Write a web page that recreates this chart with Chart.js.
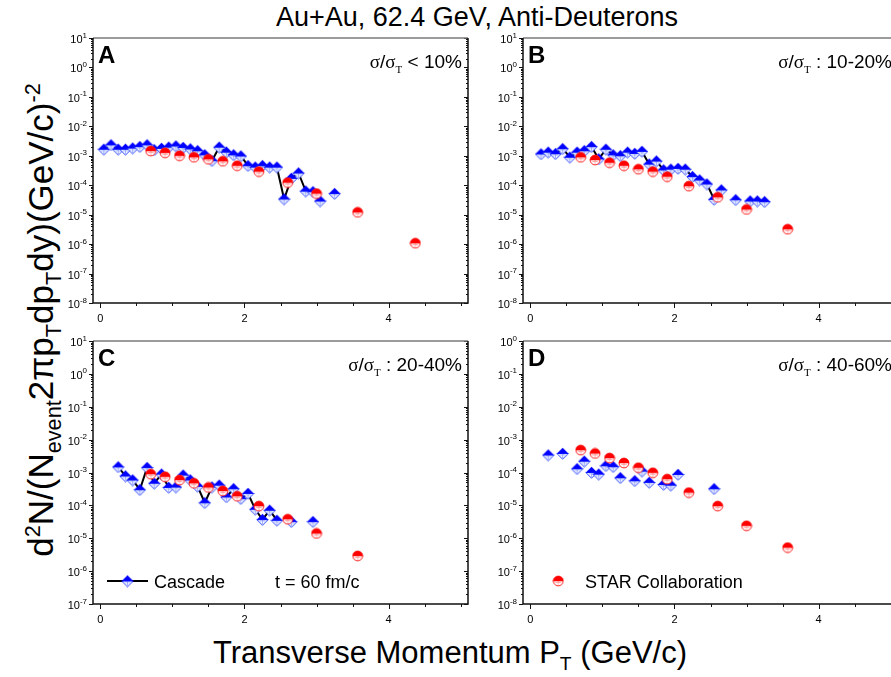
<!DOCTYPE html>
<html>
<head>
<meta charset="utf-8">
<script src="https://cdn.jsdelivr.net/npm/chart.js@4.4.1/dist/chart.umd.min.js"></script>
<style>
  html, body { margin: 0; padding: 0; overflow: hidden; background: #fff; }
  #wrap { position: relative; width: 891px; height: 677px; overflow: hidden; background: #fff; font-family: "Liberation Sans", Arial, sans-serif; color: #000; }
  #wrap canvas { position: absolute; }
  .txt { position: absolute; white-space: nowrap; line-height: 1; }
  .txt sub, .txt sup { line-height: 0; font-size: 62%; }
  #title { left: 477px; top: 4px; font-size: 27px; transform: translateX(-50%); }
  #xtitle { left: 450px; top: 637px; font-size: 31px; transform: translateX(-50%); }
  #ytitle { left: 40px; top: 320px; font-size: 35px; transform: translate(-50%, -50%) rotate(-90deg); }
</style>
</head>
<body>
<div id="wrap">
  <div class="txt" id="title">Au+Au, 62.4 GeV, Anti-Deuterons</div>
  <div class="txt" id="ytitle">d<sup>2</sup>N/(N<sub>event</sub>2&pi;p<sub>T</sub>dp<sub>T</sub>dy)(GeV/c)<sup>-2</sup></div>
  <div class="txt" id="xtitle">Transverse Momentum P<sub>T</sub> (GeV/c)</div>
  <canvas id="chartA" width="425" height="300" style="left:50px;top:28px"></canvas>
  <canvas id="chartB" width="425" height="300" style="left:480px;top:28px"></canvas>
  <canvas id="chartC" width="425" height="300" style="left:50px;top:331px"></canvas>
  <canvas id="chartD" width="425" height="300" style="left:480px;top:331px"></canvas>
</div>
<script>
// ---- data ----
var starPt = [0.7, 0.9, 1.1, 1.3, 1.5, 1.7, 1.9, 2.2, 2.6, 3.0, 3.57];

// A: sigma/sigmaT < 10%
var cascadePtA = [0.05, 0.15, 0.25, 0.35, 0.45, 0.55, 0.65, 0.75, 0.85, 0.95, 1.05, 1.15, 1.25, 1.35, 1.45, 1.55, 1.65,
    1.75, 1.85, 1.95, 2.05, 2.15, 2.25, 2.35, 2.45, 2.55, 2.65, 2.75, 2.85, 2.95, 3.05, 3.15, 3.25];
var cascadeA = [1.66e-3, 2.34e-3, 1.66e-3, 1.66e-3, 1.82e-3, 2.04e-3, 2.34e-3, 1.58e-3, 1.78e-3, 1.95e-3, 2.14e-3, 1.91e-3,
    1.70e-3, 1.48e-3, 1.07e-3, 6.8e-4, 1.95e-3, 1.32e-3, 1.07e-3, 9.8e-4, 4.6e-4, 4.1e-4, 4.6e-4, 4.1e-4, 4.1e-4,
    3.4e-5, 1.7e-4, 2.6e-4, 6.3e-5, 6.0e-5, 2.9e-5, null, 5.2e-5];
var starPtA = [0.7, 0.9, 1.1, 1.3, 1.5, 1.7, 1.9, 2.2, 2.6, 3.0, 3.57, 4.37];
var starA = [1.45e-3, 1.26e-3, 1.0e-3, 8.9e-4, 7.6e-4, 6.5e-4, 4.6e-4, 2.9e-4, 1.23e-4, 5.2e-5, 1.2e-5, 1.07e-6];

// B: 10-20%
var cascadePtB = [0.15, 0.25, 0.35, 0.45, 0.55, 0.65, 0.75, 0.85, 0.95, 1.05, 1.15, 1.25, 1.35, 1.45, 1.55, 1.65,
    1.75, 1.85, 1.95, 2.05, 2.15, 2.25, 2.35, 2.45, 2.55, 2.65, 2.75, 2.85, 2.95, 3.05, 3.15, 3.25];
var cascadeB = [1.15e-3, 1.32e-3, 1.17e-3, 1.74e-3, 8.9e-4, 1.32e-3, 1.48e-3, 2.04e-3, 7.8e-4, 1.66e-3,
    1.07e-3, 1.0e-3, 1.32e-3, 1.2e-3, 1.41e-3, 5.2e-4, 6.6e-4, 3.3e-4, 3.5e-4, 3.7e-4,
    3.5e-4, 1.95e-4, 1.5e-4, 1.1e-4, 3.3e-5, 6.9e-5, null, 3.2e-5, null, 2.9e-5, 2.9e-5, 2.75e-5];
var starB = [8.9e-4, 7.2e-4, 5.8e-4, 4.6e-4, 3.5e-4, 2.9e-4, 1.95e-4, 9.3e-5, 3.9e-5, 1.5e-5, 3.2e-6];

// C: 20-40%
var cascadePtC = [0.25, 0.35, 0.45, 0.55, 0.65, 0.75, 0.85, 0.95, 1.05, 1.15, 1.25, 1.35, 1.45, 1.55, 1.65,
    1.75, 1.85, 1.95, 2.05, 2.15, 2.25, 2.35, 2.45, 2.55, 2.65, 2.75, 2.85, 2.95];
var cascadeC = [1.48e-3, 7.8e-4, 5.9e-4, 3.0e-4, 1.41e-3, 4.7e-4, 8.9e-4, 3.5e-4, 3.6e-4, 8.3e-4,
    5.9e-4, 3.8e-4, 1.2e-4, 3.6e-4, 4.1e-4, 1.8e-4, 3.2e-4, 1.6e-4, 2.3e-4, 7.6e-5,
    3.7e-5, 7.1e-5, 3.5e-5, null, 3.2e-5, null, null, 3.2e-5];
var starC = [8.9e-4, 7.4e-4, 5.9e-4, 4.7e-4, 3.5e-4, 2.75e-4, 1.9e-4, 9.5e-5, 3.8e-5, 1.4e-5, 2.9e-6];

// D: 40-60%
var cascadePtD = [0.25, 0.45, 0.65, 0.75, 0.85, 0.95, 1.05, 1.15, 1.25, 1.45, 1.55, 1.65, 1.85, 1.95, 2.05, 2.55];
var cascadeD = [3.4e-4, 3.8e-4, 1.3e-4, 2.2e-4, 1.0e-4, 8.9e-5, 1.6e-4, 1.5e-4, 6.9e-5, 5.6e-5, 1.1e-4, 5.0e-5,
    4.3e-5, 4.1e-5, 8.7e-5, 3.2e-5];
var starD = [4.8e-4, 3.8e-4, 2.75e-4, 1.95e-4, 1.4e-4, 9.8e-5, 6.3e-5, 2.45e-5, 9.5e-6, 2.4e-6, 5.2e-7];

// axis ticks
var xTickValues = [0, 0.5, 1, 1.5, 2, 2.5, 3, 3.5, 4, 4.5, 5];
var xLabelValues = [0, 2, 4];
var decadesAB = [-8, -7, -6, -5, -4, -3, -2, -1, 0, 1];
var decadesC = [-7, -6, -5, -4, -3, -2, -1, 0, 1];
var decadesD = [-8, -7, -6, -5, -4, -3, -2, -1, 0];

var SANS = '"Liberation Sans", Arial, sans-serif';
var SERIF = '"Liberation Serif", "Times New Roman", serif';

function pontos(xs, ys) {
    var r = [];
    for (var i = 0; i < xs.length; i++) r.push({ x: xs[i], y: ys[i] });
    return r;
}

function makeDiamond() {
    var c = document.createElement('canvas');
    c.width = 13; c.height = 13;
    var g = c.getContext('2d');
    var cx = 6.5, cy = 6.5, r = 5.7;
    g.beginPath(); g.moveTo(cx - r, cy); g.lineTo(cx, cy + r); g.lineTo(cx + r, cy); g.closePath();
    g.fillStyle = '#fff'; g.fill();
    g.strokeStyle = '#2340ff'; g.lineWidth = 1; g.stroke();
    g.strokeStyle = '#8c9dff'; g.lineWidth = 0.8;
    g.beginPath();
    g.moveTo(cx, cy); g.lineTo(cx, cy + r - 1.2);
    g.moveTo(cx - 2.8, cy + 1.4); g.lineTo(cx + 2.8, cy + 1.4);
    g.stroke();
    g.beginPath(); g.moveTo(cx - r - 0.3, cy + 0.2); g.lineTo(cx, cy - r); g.lineTo(cx + r + 0.3, cy + 0.2); g.closePath();
    g.fillStyle = '#0000ff'; g.fill();
    return c;
}

function makeCircle() {
    var c = document.createElement('canvas');
    c.width = 12; c.height = 12;
    var g = c.getContext('2d');
    var cx = 6, cy = 6, r = 4.9;
    g.beginPath(); g.arc(cx, cy, r, 0, Math.PI * 2);
    g.fillStyle = '#fff'; g.fill();
    g.strokeStyle = '#ff2020'; g.lineWidth = 1; g.stroke();
    g.strokeStyle = '#ff9a9a'; g.lineWidth = 0.8;
    g.beginPath();
    g.moveTo(cx, cy); g.lineTo(cx, cy + r - 1);
    g.moveTo(cx - 2.8, cy + 1.5); g.lineTo(cx + 2.8, cy + 1.5);
    g.stroke();
    g.beginPath(); g.arc(cx, cy + 0.2, r + 0.3, Math.PI, 0); g.closePath();
    g.fillStyle = '#ff0000'; g.fill();
    return c;
}

var diamondImg = makeDiamond();
var circleImg = makeCircle();

function drawSigma(ctx, right, base, tail) {
    var parts = [
        { t: '\u03C3', f: '19px ' + SERIF, dy: 0 },
        { t: '/', f: '19px ' + SANS, dy: 0 },
        { t: '\u03C3', f: '19px ' + SERIF, dy: 0 },
        { t: 'T', f: '11px ' + SERIF, dy: 5 },
        { t: tail, f: '19px ' + SANS, dy: 0 }
    ];
    var total = 0;
    parts.forEach(function (p) { ctx.font = p.f; p.w = ctx.measureText(p.t).width; total += p.w; });
    var x = right - total;
    ctx.textAlign = 'left';
    ctx.textBaseline = 'alphabetic';
    parts.forEach(function (p) { ctx.font = p.f; ctx.fillText(p.t, x, base + p.dy); x += p.w; });
}

var decoPlugin = {
    id: 'deco',
    afterDraw: function (chart, args, opts) {
        var ctx = chart.ctx, a = chart.chartArea, xs = chart.scales.x, ys = chart.scales.y;
        ctx.save();
        ctx.fillStyle = '#000';
        ctx.strokeStyle = '#111';
        ctx.lineWidth = 1;
        ctx.beginPath();
        xTickValues.forEach(function (v) {
            var p = Math.round(xs.getPixelForValue(v)) + 0.5;
            var len = xLabelValues.indexOf(v) >= 0 ? 5 : 3;
            ctx.moveTo(p, a.bottom); ctx.lineTo(p, a.bottom + len);
        });
        var dec = opts.decades;
        dec.forEach(function (e, i) {
            var p = Math.round(ys.getPixelForValue(Math.pow(10, e))) + 0.5;
            ctx.moveTo(a.left - 4, p); ctx.lineTo(a.left, p);
            ctx.moveTo(a.right - 4, p); ctx.lineTo(a.right, p);
            if (i < dec.length - 1) {
                for (var k = 2; k <= 9; k++) {
                    var q = Math.round(ys.getPixelForValue(k * Math.pow(10, e))) + 0.5;
                    ctx.moveTo(a.left - 2, q); ctx.lineTo(a.left, q);
                    ctx.moveTo(a.right - 2, q); ctx.lineTo(a.right, q);
                }
            }
        });
        ctx.stroke();

        // y tick labels: 10 with raised exponent, placed on the scale's own ticks
        ctx.textAlign = 'left';
        ctx.textBaseline = 'alphabetic';
        ys.ticks.forEach(function (t) {
            var p = ys.getPixelForValue(t.value);
            var ex = String(Math.round(Math.log10(t.value)));
            ctx.font = '8px ' + SANS;
            var we = ctx.measureText(ex).width;
            ctx.font = '11px ' + SANS;
            var wb = ctx.measureText('10').width;
            var xr = a.left - 6;
            ctx.fillText('10', xr - we - wb, p + 5);
            ctx.font = '8px ' + SANS;
            ctx.fillText(ex, xr - we, p - 0.5);
        });

        ctx.lineWidth = 1.5;
        ctx.strokeStyle = '#7a7a7a';
        ctx.beginPath(); ctx.moveTo(a.left, a.top); ctx.lineTo(a.right, a.top); ctx.stroke();
        ctx.strokeStyle = '#111';
        ctx.beginPath();
        ctx.moveTo(a.right, a.top); ctx.lineTo(a.right, a.bottom); ctx.lineTo(a.left, a.bottom); ctx.lineTo(a.left, a.top);
        ctx.stroke();

        ctx.font = 'bold 24px ' + SANS;
        ctx.fillText(opts.letter, a.left + 5, a.top + 25);
        drawSigma(ctx, a.right - 6, a.top + 30, opts.tail);

        if (opts.legendCascade) {
            var ly = a.top + 240;
            ctx.strokeStyle = '#000'; ctx.lineWidth = 2;
            ctx.beginPath(); ctx.moveTo(a.left + 14, ly); ctx.lineTo(a.left + 55, ly); ctx.stroke();
            ctx.drawImage(diamondImg, a.left + 34.5 - 6.5, ly - 6.5);
            ctx.font = '18px ' + SANS;
            ctx.fillText('Cascade', a.left + 61, ly + 6.5);
            ctx.fillText('t = 60 fm/c', a.left + 182, ly + 6.5);
        }
        if (opts.legendStar) {
            var sy = a.top + 240;
            ctx.drawImage(circleImg, a.left + 35.3 - 6, sy - 6);
            ctx.font = '18px ' + SANS;
            ctx.fillText('STAR Collaboration', a.left + 62, sy + 6.5);
        }
        ctx.restore();
    }
};

function criarPainel(id, cfg) {
    return new Chart(document.getElementById(id), {
        type: 'line',
        data: {
            datasets: [
                { label: 'STAR Collaboration', data: pontos(cfg.starPt, cfg.star), showLine: false,
                  pointStyle: circleImg, pointRadius: 5, order: 0 },
                { label: 'Cascade', data: pontos(cfg.cascPt, cfg.casc), showLine: cfg.linha, spanGaps: false,
                  borderColor: '#000', borderWidth: 2, pointStyle: diamondImg, pointRadius: 5, order: 1 }
            ]
        },
        options: {
            responsive: false,
            animation: false,
            devicePixelRatio: 1,
            events: [],
            layout: { padding: { left: 0, top: 10, right: 7, bottom: 0 } },
            plugins: {
                legend: { display: false },
                tooltip: { enabled: false },
                deco: cfg.deco
            },
            scales: {
                x: {
                    type: 'linear', min: -0.1, max: 5.1,
                    grid: { display: false, drawTicks: false },
                    border: { display: false },
                    afterFit: function (s) { s.height = cfg.xh; },
                    afterBuildTicks: function (s) { s.ticks = xTickValues.map(function (v) { return { value: v }; }); },
                    ticks: {
                        autoSkip: false, maxRotation: 0, padding: 9, color: '#000',
                        font: { family: SANS, size: 11 },
                        callback: function (v) { return xLabelValues.indexOf(v) >= 0 ? String(v) : ''; }
                    }
                },
                y: {
                    type: 'logarithmic', min: cfg.ymin, max: cfg.ymax,
                    grid: { display: false, drawTicks: false },
                    border: { display: false },
                    afterFit: function (s) { s.width = 43; },
                    afterBuildTicks: function (s) {
                        s.ticks = cfg.deco.decades.map(function (e) { return { value: Math.pow(10, e), major: true }; });
                    },
                    ticks: { display: false }
                }
            }
        },
        plugins: [decoPlugin]
    });
}

criarPainel('chartA', { cascPt: cascadePtA, casc: cascadeA, starPt: starPtA, star: starA, linha: true,
    ymin: 1e-8, ymax: 1e1, xh: 25, deco: { letter: 'A', tail: ' < 10%', decades: decadesAB } });
criarPainel('chartB', { cascPt: cascadePtB, casc: cascadeB, starPt: starPt, star: starB, linha: true,
    ymin: 1e-8, ymax: 1e1, xh: 25, deco: { letter: 'B', tail: ' : 10-20%', decades: decadesAB } });
criarPainel('chartC', { cascPt: cascadePtC, casc: cascadeC, starPt: starPt, star: starC, linha: true,
    ymin: 1e-7, ymax: 1e1, xh: 27, deco: { letter: 'C', tail: ' : 20-40%', decades: decadesC, legendCascade: true } });
criarPainel('chartD', { cascPt: cascadePtD, casc: cascadeD, starPt: starPt, star: starD, linha: false,
    ymin: 1e-8, ymax: 1e0, xh: 27, deco: { letter: 'D', tail: ' : 40-60%', decades: decadesD, legendStar: true } });
</script>
</body>
</html>
